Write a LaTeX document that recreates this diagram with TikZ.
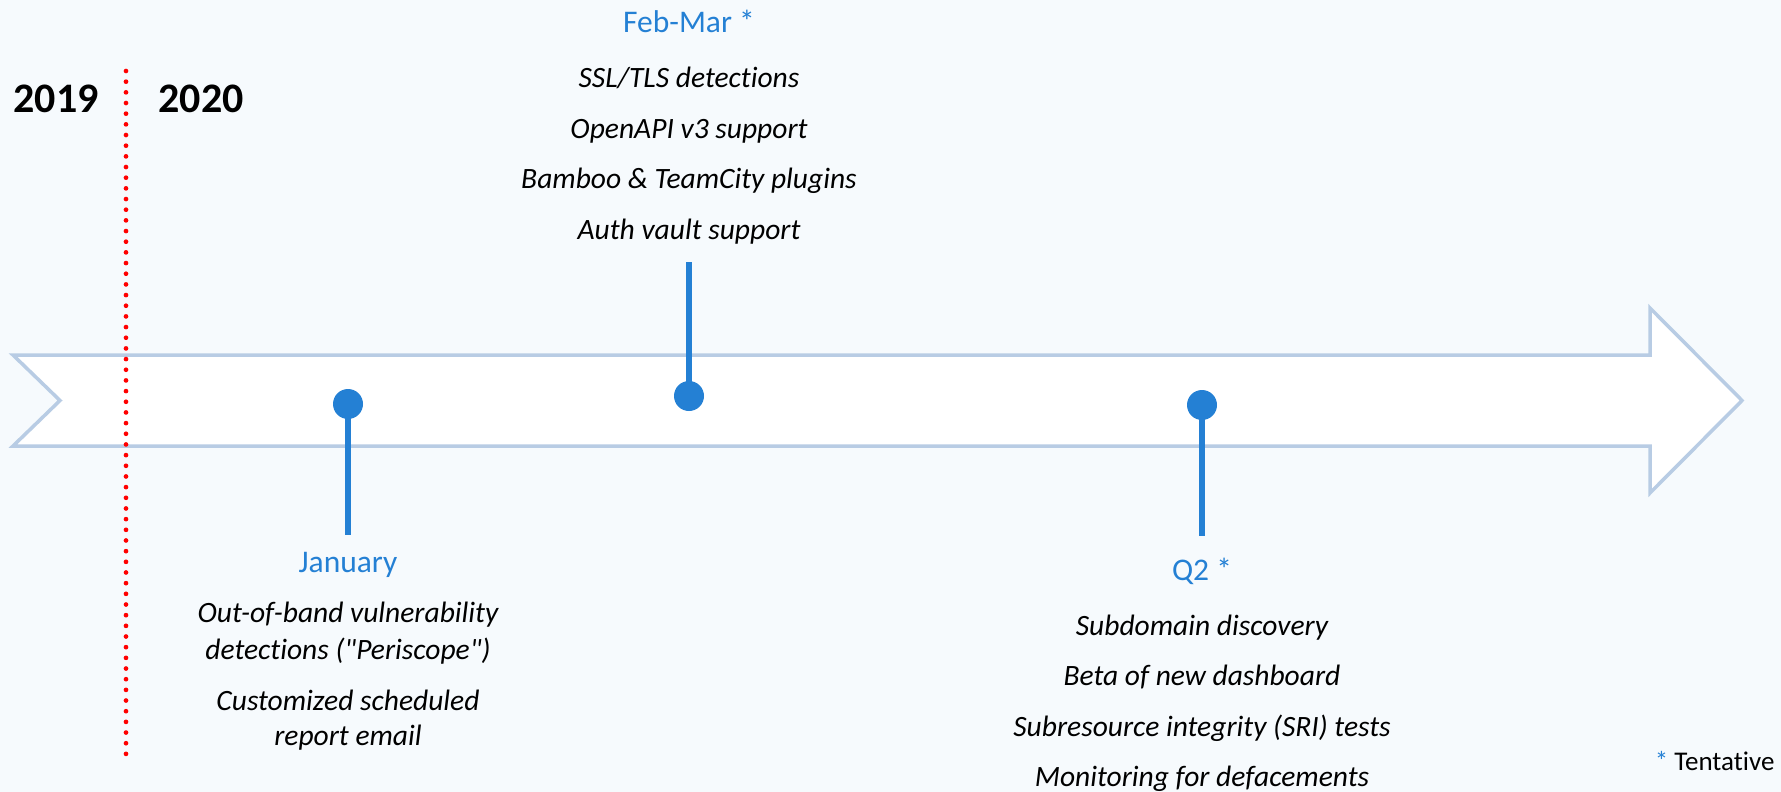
\documentclass[tikz,border=0pt]{standalone}
\usepackage{fontspec}
\setmainfont{Carlito}[Ligatures={TeXOff,NoCommon}]
\usetikzlibrary{positioning}

\definecolor{pageBg}{RGB}{246,250,253}
\definecolor{arrowLine}{RGB}{184,204,228}
\definecolor{mileBlue}{RGB}{36,128,212}
\definecolor{dotRed}{RGB}{255,0,0}

\tikzset{
  milestone/.style={circle, fill=mileBlue, minimum size=30pt, inner sep=0pt},
  stem/.style={draw=mileBlue, line width=6pt},
  period/.style={text=mileBlue, font=\fontsize{31.5}{36}\selectfont, anchor=base},
  item/.style={font=\fontsize{29.5}{34}\selectfont\itshape, anchor=base},
  year/.style={font=\fontsize{42}{48}\selectfont\bfseries, anchor=base west},
}

\begin{document}
\begin{tikzpicture}[x=1pt,y=-1pt]
    % 背景
    \fill[pageBg] (0,0) rectangle (1781,792);
    \useasboundingbox (0,0) rectangle (1781,792);

    % 时间轴箭头
    \draw[arrowLine, line width=3.5pt, fill=white, line join=miter]
        (13,355) -- (1650,355) -- (1650,308) -- (1742,400.5)
        -- (1650,493) -- (1650,446) -- (13,446) -- (60,400.5) -- cycle;

    % 年份分界线
    \draw[dotRed, line width=4.7pt, line cap=round, dash pattern=on 0pt off 10.67pt]
        (126,71) -- (126,754);
    \node[year] (y2019) at (10,113) {2019};
    \node[year] (y2020) at (155,113) {2020};

    % 里程碑: 竖线与圆点
    \coordinate (jan) at (348,404);
    \coordinate (janEnd) at (348,535);
    \coordinate (feb) at (689,396);
    \coordinate (febEnd) at (689,262);
    \coordinate (q2) at (1202,405);
    \coordinate (q2End) at (1202,536);
    \draw[stem] (jan) -- (janEnd);
    \draw[stem] (feb) -- (febEnd);
    \draw[stem] (q2) -- (q2End);
    \node[milestone] (janDot) at (jan) {};
    \node[milestone] (febDot) at (feb) {};
    \node[milestone] (q2Dot) at (q2) {};

    % January
    \node[period] (janTitle) at (348,572) {January};
    \foreach \y/\t in {622/Out-of-band vulnerability, 659/detections ("Periscope"),
                       710/Customized scheduled, 745/report email}
        \node[item] at (348,\y) {\t};

    % Feb-Mar
    \node[period] (febTitle) at (689,33) {Feb-Mar *};
    \foreach \y/\t in {88/{SSL/TLS detections}, 138/OpenAPI v3 support,
                       188/Bamboo \& TeamCity plugins, 239/Auth vault support}
        \node[item] at (689,\y) {\t};

    % Q2
    \node[period] (q2Title) at (1202,580) {Q2 *};
    \foreach \y/\t in {635/Subdomain discovery, 685/Beta of new dashboard,
                       736/Subresource integrity (SRI) tests, 786/Monitoring for defacements}
        \node[item] at (1202,\y) {\t};

    % 图例
    \node[font=\fontsize{27}{30}\selectfont, anchor=base east] (note) at (1778,770)
        {\textcolor{mileBlue}{*} Tentative};
\end{tikzpicture}
\end{document}
